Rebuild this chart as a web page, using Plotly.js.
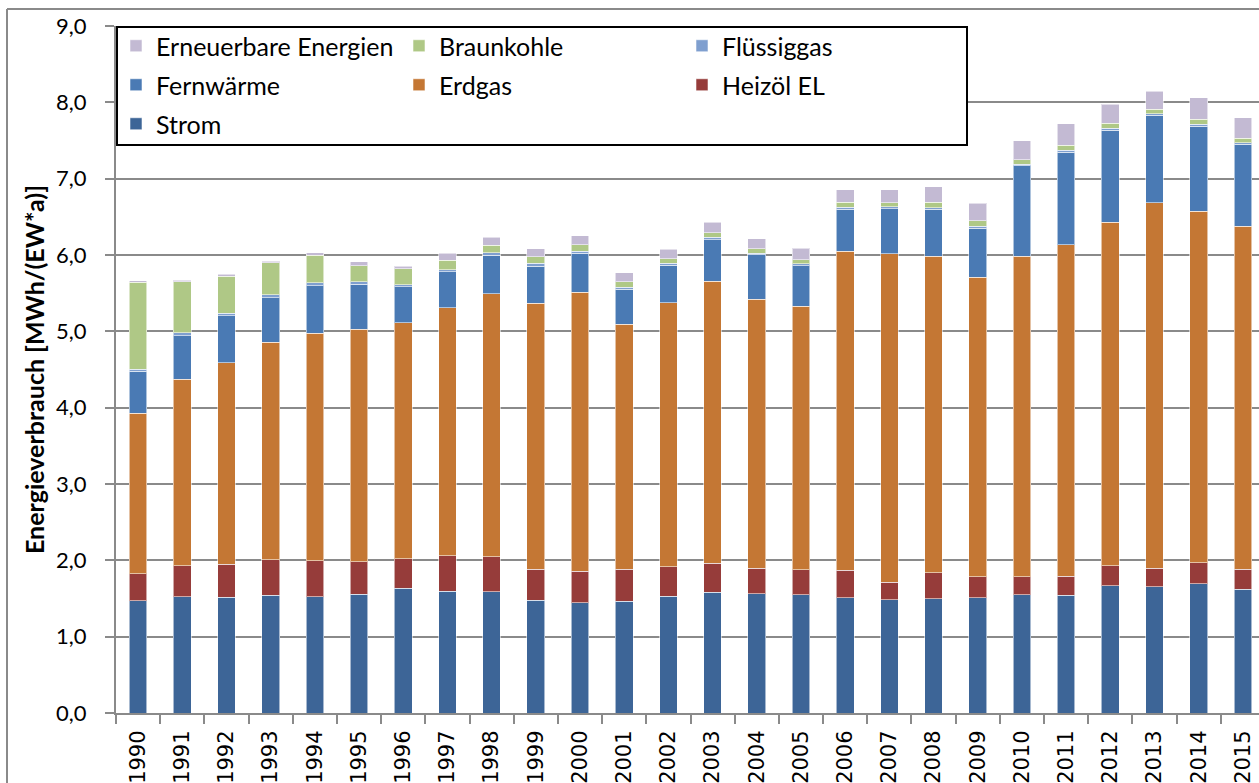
<!DOCTYPE html>
<html>
<head>
<meta charset="utf-8">
<script src="https://cdn.plot.ly/plotly-3.0.1.min.js"></script>
<style>
html,body{margin:0;padding:0;overflow:hidden;background:#fff;}
#chart{width:1265px;height:783px;}
</style>
</head>
<body>
<div id="chart"></div>
<script>
// ---- data ----
var years = ['1990','1991','1992','1993','1994','1995','1996','1997','1998','1999','2000','2001','2002','2003','2004','2005','2006','2007','2008','2009','2010','2011','2012','2013','2014','2015'];
var strom       = [1.47,1.52,1.515,1.545,1.525,1.555,1.635,1.595,1.59,1.48,1.445,1.463,1.53,1.58,1.563,1.546,1.509,1.482,1.498,1.509,1.546,1.541,1.669,1.653,1.691,1.621];
var heizoel     = [0.355,0.41,0.435,0.465,0.47,0.425,0.385,0.465,0.46,0.40,0.415,0.417,0.385,0.38,0.332,0.332,0.358,0.23,0.337,0.278,0.236,0.251,0.257,0.241,0.278,0.262];
var erdgas      = [2.10,2.445,2.64,2.85,2.98,3.05,3.09,3.25,3.445,3.49,3.655,3.215,3.46,3.695,3.525,3.451,4.179,4.307,4.147,3.922,4.2,4.345,4.505,4.789,4.607,4.495];
var fernwaerme  = [0.55,0.565,0.615,0.58,0.625,0.585,0.475,0.47,0.50,0.48,0.505,0.455,0.49,0.545,0.585,0.53,0.556,0.589,0.615,0.642,1.188,1.209,1.204,1.145,1.113,1.075];
var fluessiggas = [0.03,0.04,0.035,0.04,0.035,0.035,0.025,0.03,0.035,0.04,0.03,0.025,0.03,0.03,0.015,0.027,0.022,0.021,0.021,0.027,0.021,0.027,0.027,0.021,0.021,0.016];
var braunkohle  = [1.14,0.67,0.48,0.42,0.365,0.21,0.21,0.12,0.10,0.09,0.085,0.075,0.055,0.06,0.06,0.053,0.064,0.054,0.07,0.069,0.059,0.064,0.064,0.059,0.07,0.059];
var erneuerbare = [0.02,0.02,0.03,0.02,0.03,0.05,0.035,0.09,0.10,0.10,0.115,0.12,0.125,0.14,0.135,0.15,0.166,0.171,0.209,0.23,0.246,0.284,0.246,0.235,0.278,0.268];
var yTickVals = [0,1,2,3,4,5,6,7,8,9];
var yTickText = ['0,0','1,0','2,0','3,0','4,0','5,0','6,0','7,0','8,0','9,0'];

// ---- layout constants ----
var W = 1265, H = 783, ML = 116, MR = 0, MT = 26, MB = 70;
var PW = W - ML - MR, PH = H - MT - MB;
function px2x(p){ return (p - ML) / PW; }
function px2y(p){ return (H - MB - p) / PH; }

var series = [
  {name:'Strom', y:strom, color:'#3D6597', legend:'legend3'},
  {name:'Heizöl EL', y:heizoel, color:'#963C3A', legend:'legend2'},
  {name:'Erdgas', y:erdgas, color:'#C47734', legend:'legend2'},
  {name:'Fernwärme', y:fernwaerme, color:'#4A7AB4', legend:'legend2'},
  {name:'Flüssiggas', y:fluessiggas, color:'#7F9FCF', legend:'legend'},
  {name:'Braunkohle', y:braunkohle, color:'#AFC886', legend:'legend'},
  {name:'Erneuerbare Energien', y:erneuerbare, color:'#C3BAD3', legend:'legend'}
];

var data = series.map(function(s){
  return {
    type:'bar', x:years, y:s.y, name:s.name, legend:s.legend,
    marker:{color:s.color, line:{color:'rgba(255,255,255,0.55)', width:1}},
    hoverinfo:'skip'
  };
});

var legFont = {family:'Lato, sans-serif', size:25, color:'#000'};
function mkLegend(py){
  return {
    orientation:'h', x:0, xanchor:'left', y:px2y(py), yanchor:'middle',
    bgcolor:'rgba(0,0,0,0)', borderwidth:0, font:legFont,
    traceorder:'reversed', entrywidth:238, entrywidthmode:'pixels', itemclick:false
  };
}

var layout = {
  width:W, height:H,
  margin:{l:ML, r:MR, t:MT, b:MB, pad:0},
  paper_bgcolor:'#fff', plot_bgcolor:'#fff',
  barmode:'stack', bargap:0.6,
  showlegend:true,
  legend:mkLegend(46),
  legend2:mkLegend(85),
  legend3:mkLegend(124),
  xaxis:{
    type:'category', range:[-0.5,25.5], automargin:false,
    tickangle:-90, tickfont:{family:'DejaVu Sans, sans-serif', size:21, color:'#000'},
    ticks:'outside', tickson:'boundaries', ticklen:9, tickwidth:2, tickcolor:'#8a8a8a',
    showline:true, linecolor:'#8a8a8a', linewidth:2, showgrid:false, zeroline:false,
    ticklabelstandoff:7
  },
  yaxis:{
    range:[0,9], automargin:false,
    tickmode:'array', tickvals:yTickVals, ticktext:yTickText,
    tickfont:{family:'Lato, sans-serif', size:22, color:'#000'},
    ticks:'outside', ticklen:9, tickwidth:2, tickcolor:'#8a8a8a',
    showline:true, linecolor:'#8a8a8a', linewidth:2,
    showgrid:true, gridcolor:'#8a8a8a', gridwidth:2, zeroline:false,
    ticklabelstandoff:14,
    title:{text:'Energieverbrauch [MWh/(EW*a)]', font:{family:'Lato, sans-serif', size:25, weight:'bold', color:'#000'}, standoff:4}
  },
  shapes:[
    {type:'rect', xref:'paper', yref:'paper', x0:px2x(117), x1:px2x(967), y0:px2y(145), y1:px2y(27),
     line:{color:'#000', width:2}, fillcolor:'#fff', layer:'above'},
    {type:'line', xref:'paper', yref:'paper', x0:px2x(7), x1:px2x(7), y0:px2y(9), y1:px2y(800),
     line:{color:'#8a8a8a', width:2}, layer:'above'},
    {type:'line', xref:'paper', yref:'paper', x0:px2x(7), x1:px2x(1300), y0:px2y(9), y1:px2y(9),
     line:{color:'#8a8a8a', width:2}, layer:'above'}
  ]
};

Plotly.newPlot('chart', data, layout, {staticPlot:true, displayModeBar:false});
</script>
</body>
</html>
